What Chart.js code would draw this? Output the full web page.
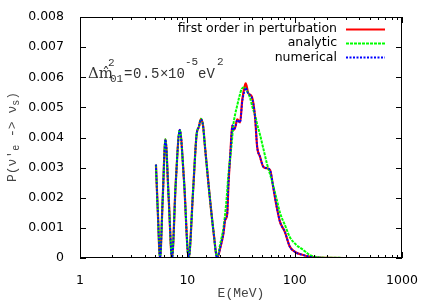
<!DOCTYPE html>
<html>
<head>
<meta charset="utf-8">
<script src="https://cdn.jsdelivr.net/npm/chart.js@4"></script>
<style>
  html, body { margin: 0; padding: 0; background: #fff; }
  #wrap { width: 436px; height: 305px; }
</style>
</head>
<body>
<div id="wrap"><canvas id="probCanvas" width="436" height="305"></canvas></div>
<script>
// energies (MeV) and probabilities (x 1e-3)
const eFirst = [5.1, 5.3, 5.57, 5.9, 6.25, 6.7, 7.2, 7.8, 8.5, 9.3, 10.3, 11.3, 12.2, 12.8, 13.4, 14.0, 14.6, 16.0, 17.5, 19.0,
  20.2, 21.7, 22.5, 23.5, 24.2, 25.2, 25.9, 26.3, 27.0, 28.0, 29.2, 31.0, 32.5, 34.5, 35.0, 37.0, 39.8, 42.7, 44.7,
  47.5, 51, 55, 59, 63, 68, 73, 81, 90, 101, 120, 150, 200, 300, 406];
const pFirst = [3.1, 1.6, 0, 2.0, 3.94, 2.0, 0, 2.5, 4.25, 2.6, 0, 2.2, 4.1, 4.35, 4.62, 4.4, 3.7, 2.2, 0.9, 0,
  0.32, 0.82, 1.26, 1.45, 2.5, 3.5, 4.2, 4.4, 4.25, 4.35, 4.6, 4.5, 5.25, 5.75, 5.8, 5.47, 5.36, 4.7, 3.7,
  3.37, 3.03, 2.98, 2.92, 2.37, 1.7, 1.2, 0.87, 0.38, 0.2, 0.1, 0.02, 0.005, 0, 0];

const eAnalytic = [5.1, 5.3, 5.57, 5.9, 6.25, 6.7, 7.2, 7.8, 8.5, 9.3, 10.3, 11.3, 12.2, 12.8, 13.4, 14.0, 14.6, 16.0, 17.5, 19.0,
  20.2, 21.7, 23.0, 24.2, 25.2, 25.9, 26.8, 28.0, 29.1, 30.5, 32.0, 33.5, 34.5, 36.5, 38.5, 40.5, 42.7, 45, 47.5,
  51, 55, 61, 68, 73, 81, 90, 104, 120, 138, 172, 250, 450];
const pAnalytic = [3.1, 1.6, 0, 2.0, 3.94, 2.0, 0, 2.5, 4.25, 2.6, 0, 2.2, 4.1, 4.35, 4.62, 4.4, 3.7, 2.2, 0.9, 0,
  0.45, 1.0, 1.8, 2.8, 3.4, 3.8, 4.4, 4.8, 5.05, 5.35, 5.6, 5.67, 5.65, 5.5, 5.3, 5.0, 4.75, 4.4, 4.1,
  3.64, 3.15, 2.6, 1.95, 1.5, 1.1, 0.7, 0.43, 0.27, 0.1, 0.02, 0.005, 0];

const eNumerical = eFirst;
const pNumerical = [3.1, 1.6, 0, 2.0, 3.94, 2.0, 0, 2.5, 4.25, 2.6, 0, 2.2, 4.1, 4.35, 4.6, 4.4, 3.7, 2.2, 0.9, 0,
  0.32, 0.82, 1.26, 1.45, 2.5, 3.5, 4.2, 4.4, 4.25, 4.35, 4.58, 4.5, 5.2, 5.6, 5.65, 5.45, 5.34, 4.7, 3.7,
  3.37, 3.03, 2.98, 2.92, 2.37, 1.7, 1.2, 0.87, 0.38, 0.2, 0.1, 0.02, 0.005, 0, 0];

const yTicks = [0, 0.001, 0.002, 0.003, 0.004, 0.005, 0.006, 0.007, 0.008];
const xLabels = [1, 10, 100, 1000];

const toPoints = (es, ps) => es.map((e, i) => ({ x: e, y: ps[i] / 1000 }));

// frame, inward ticks (gnuplot style), legend and text
const framePlugin = {
  id: 'frame',
  afterDraw(chart) {
    const ctx = chart.ctx;
    const a = chart.chartArea;
    const xs = chart.scales.x, ys = chart.scales.y;
    ctx.save();
    ctx.strokeStyle = '#000';
    ctx.lineWidth = 1;
    ctx.strokeRect(a.left + 0.5, a.top + 0.5, a.right - a.left - 1, a.bottom - a.top - 1);

    ctx.beginPath();
    ys.ticks.forEach(t => {
      const py = Math.round(ys.getPixelForValue(t.value)) + 0.5;
      ctx.moveTo(a.left, py); ctx.lineTo(a.left + 6, py);
      ctx.moveTo(a.right, py); ctx.lineTo(a.right - 6, py);
    });
    xs.ticks.forEach(t => {
      const major = xLabels.includes(t.value);
      const len = major ? 6 : 3;
      const px = Math.round(xs.getPixelForValue(t.value)) + 0.5;
      ctx.moveTo(px, a.bottom); ctx.lineTo(px, a.bottom - len);
      ctx.moveTo(px, a.top); ctx.lineTo(px, a.top + len);
    });
    ctx.stroke();

    // legend: text right-aligned, sample line after it
    ctx.font = '12.5px "DejaVu Sans", sans-serif';
    ctx.textAlign = 'right';
    ctx.textBaseline = 'middle';
    chart.data.datasets.forEach((ds, i) => {
      const y = 28.5 + i * 14.4;
      ctx.fillStyle = '#000';
      ctx.fillText(ds.label, 337, y);
      ctx.strokeStyle = ds.borderColor;
      ctx.lineWidth = ds.borderWidth;
      ctx.setLineDash(ds.borderDash || []);
      ctx.beginPath();
      ctx.moveTo(346, Math.round(y) + 0.5);
      ctx.lineTo(385, Math.round(y) + 0.5);
      ctx.stroke();
    });
    ctx.setLineDash([]);

    // annotation: Δm̂²₀₁=0.5×10⁻⁵eV²
    ctx.fillStyle = '#333';
    ctx.textAlign = 'left';
    ctx.textBaseline = 'alphabetic';
    const mono = sz => sz + 'px "Liberation Mono", monospace';
    ctx.font = '15px "DejaVu Serif", serif';
    ctx.fillText('Δm\u0302', 88, 78);
    ctx.font = mono(11);
    ctx.fillText('2', 108, 66);
    ctx.fillText('01', 110, 82);
    ctx.font = mono(14);
    ctx.fillText('=', 124, 78);
    ctx.fillText('0', 133, 78);
    ctx.fillText('.', 142, 78);
    ctx.fillText('5', 151, 78);
    ctx.fillText('×', 160, 78);
    ctx.fillText('10', 168, 78);
    ctx.font = mono(11);
    ctx.fillText('-5', 185, 65);
    ctx.font = mono(14);
    ctx.fillText('eV', 198, 78);
    ctx.font = mono(11);
    ctx.fillText('2', 217, 65);

    // y axis title, rotated
    ctx.save();
    ctx.translate(16, 137);
    ctx.rotate(-Math.PI / 2);
    ctx.fillStyle = '#444';
    const parts = [['P(ν\'', 13, 0], ['e', 10, 3], [' -> ν', 13, 0], ['s', 10, 3], [')', 13, 0]];
    let w = 0;
    parts.forEach(p => { ctx.font = mono(p[1]); w += ctx.measureText(p[0]).width; });
    let x0 = -w / 2;
    parts.forEach(p => {
      ctx.font = mono(p[1]);
      ctx.fillText(p[0], x0, p[2]);
      x0 += ctx.measureText(p[0]).width;
    });
    ctx.restore();

    // x axis title
    ctx.font = mono(13);
    ctx.fillStyle = '#444';
    ctx.textAlign = 'center';
    ctx.fillText('E(MeV)', (a.left + a.right) / 2, 297);
    ctx.restore();
  }
};

new Chart(document.getElementById('probCanvas'), {
  type: 'scatter',
  data: {
    datasets: [{
      label: 'first order in perturbation',
      data: toPoints(eFirst, pFirst),
      borderColor: '#ff0000',
      borderWidth: 2.2,
      order: 3
    }, {
      label: 'analytic',
      data: toPoints(eAnalytic, pAnalytic),
      borderColor: '#00ff00',
      borderWidth: 2,
      borderDash: [3, 1],
      order: 2
    }, {
      label: 'numerical',
      data: toPoints(eNumerical, pNumerical),
      borderColor: '#0000ff',
      borderWidth: 1.8,
      borderDash: [2, 1.5],
      order: 1
    }]
  },
  options: {
    responsive: false,
    animation: false,
    showLine: true,
    layout: { padding: { left: 0, right: 34, top: 17, bottom: 0 } },
    elements: {
      point: { radius: 0 },
      line: { fill: false, cubicInterpolationMode: 'monotone' }
    },
    scales: {
      x: {
        type: 'logarithmic',
        min: 1,
        max: 1000,
        afterFit: s => { s.height = 47; },
        grid: { display: false },
        border: { display: false },
        ticks: {
          autoSkip: false,
          maxRotation: 0,
          padding: 7,
          color: '#000',
          font: { family: '"DejaVu Sans", sans-serif', size: 12.5 },
          callback: v => xLabels.includes(v) ? String(v) : ''
        }
      },
      y: {
        min: 0,
        max: 0.008,
        afterFit: s => { s.width = 80; },
        afterBuildTicks: s => { s.ticks = yTicks.map(v => ({ value: v })); },
        grid: { display: false },
        border: { display: false },
        ticks: {
          padding: 8,
          color: '#000',
          font: { family: '"DejaVu Sans", sans-serif', size: 12.5 },
          callback: v => v === 0 ? '0' : v.toFixed(3)
        }
      }
    },
    plugins: {
      legend: { display: false },
      tooltip: { enabled: false }
    }
  },
  plugins: [framePlugin]
});
</script>
</body>
</html>
